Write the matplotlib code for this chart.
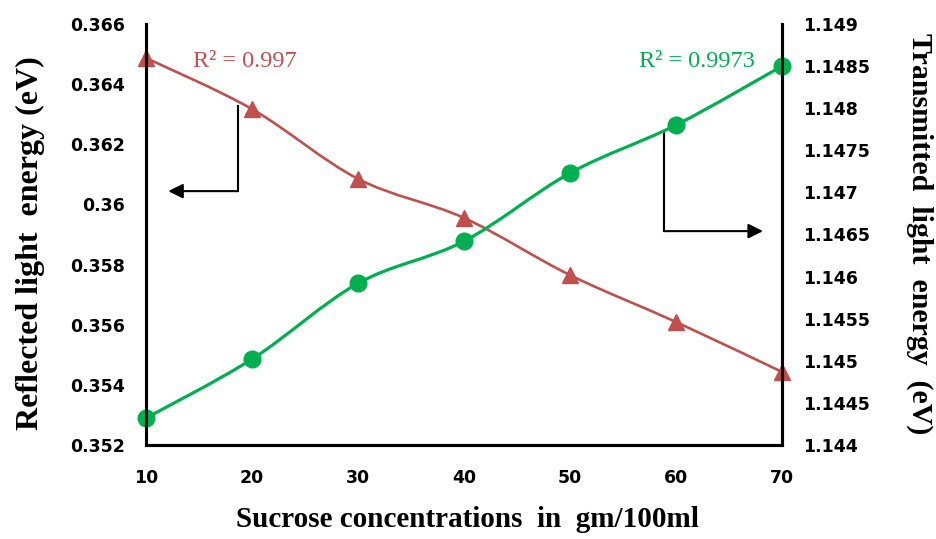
import matplotlib
matplotlib.use('Agg')
from matplotlib import pyplot as plt
from matplotlib.path import Path
from matplotlib.patches import PathPatch

# Data
conc = [10, 20, 30, 40, 50, 60, 70]
reflected = [0.36487, 0.36317, 0.36085, 0.35955, 0.35765, 0.35609, 0.35443]
transmitted = [1.14432, 1.14502, 1.14592, 1.14642, 1.14723, 1.14780, 1.14850]

left_ticks = [0.352, 0.354, 0.356, 0.358, 0.36, 0.362, 0.364, 0.366]
left_labels = ['0.352', '0.354', '0.356', '0.358', '0.36', '0.362', '0.364', '0.366']
right_ticks = [1.144, 1.1445, 1.145, 1.1455, 1.146, 1.1465, 1.147, 1.1475, 1.148, 1.1485, 1.149]
right_labels = ['1.144', '1.1445', '1.145', '1.1455', '1.146', '1.1465', '1.147',
                '1.1475', '1.148', '1.1485', '1.149']

red = '#C0504D'
green = '#00B050'
serif = 'Liberation Serif'
tick_font = {'family': 'DejaVu Sans', 'weight': 'bold', 'size': 12.5}


def smooth_path(xs, ys):
    # Excel-style smoothed line: cubic bezier through every point
    n = len(xs)
    verts = [(xs[0], ys[0])]
    codes = [Path.MOVETO]
    for i in range(n - 1):
        a = max(i - 1, 0)
        b = min(i + 2, n - 1)
        c1 = (xs[i] + (xs[i + 1] - xs[a]) / 6, ys[i] + (ys[i + 1] - ys[a]) / 6)
        c2 = (xs[i + 1] - (xs[b] - xs[i]) / 6, ys[i + 1] - (ys[b] - ys[i]) / 6)
        verts += [c1, c2, (xs[i + 1], ys[i + 1])]
        codes += [Path.CURVE4] * 3
    return Path(verts, codes)


fig = plt.figure(figsize=(9.36, 5.39), dpi=100)
ax = fig.add_axes([0.156, 0.1744, 0.6795, 0.7811])
ax2 = ax.twinx()

# Reflected light (left axis)
ax.add_patch(PathPatch(smooth_path(conc, reflected), fill=False, edgecolor=red, lw=1.9))
ax.plot(conc, reflected, ls='none', marker='^', ms=11, color=red, clip_on=False)

# Transmitted light (right axis)
ax2.add_patch(PathPatch(smooth_path(conc, transmitted), fill=False, edgecolor=green, lw=2.3))
ax2.plot(conc, transmitted, ls='none', marker='o', ms=12, color=green, clip_on=False)

ax.set_xlim(10, 70)
ax.set_ylim(0.352, 0.366)
ax2.set_ylim(1.144, 1.149)
ax.set_xticks(conc)
ax.set_xticklabels([str(c) for c in conc], fontdict=tick_font)
ax.set_yticks(left_ticks)
ax.set_yticklabels(left_labels, fontdict=tick_font)
ax2.set_yticks(right_ticks)
ax2.set_yticklabels(right_labels, fontdict=tick_font)

for a in (ax, ax2):
    a.spines['top'].set_visible(False)
    for s in ('left', 'right', 'bottom'):
        a.spines[s].set_linewidth(2.2)
    a.tick_params(length=0)
ax.tick_params(axis='y', pad=15)
ax.tick_params(axis='x', pad=17)
ax2.tick_params(axis='y', pad=15)

# Axis titles
ax.set_xlabel('Sucrose concentrations  in  gm/100ml', family=serif, weight='bold',
              fontsize=21, va='center')
ax.xaxis.set_label_coords(0.505, -0.178)
ax.set_ylabel('Reflected light  energy (eV)', family=serif, weight='bold',
              fontsize=23, va='center')
ax.yaxis.set_label_coords(-0.182, 0.48)
ax2.set_ylabel('Transmitted  light  energy  (eV)', family=serif, weight='bold',
               fontsize=21.5, rotation=-90, va='center')
ax2.yaxis.set_label_coords(1.217, 0.501)

# R squared notes
ax.text(0.074, 0.91, 'R² = 0.997', transform=ax.transAxes, color=red,
        family=serif, fontsize=17.5, ha='left', va='center')
ax.text(0.9575, 0.91, 'R² = 0.9973', transform=ax.transAxes, color=green,
        family=serif, fontsize=17.5, ha='right', va='center')

# Elbow arrows pointing to each axis
ax.plot([0.1447, 0.1447], [0.805, 0.603], transform=ax.transAxes, color='black', lw=1.5)
ax.annotate('', xy=(0.035, 0.603), xytext=(0.1447, 0.603),
            xycoords='axes fraction', textcoords='axes fraction',
            arrowprops=dict(arrowstyle='-|>', color='black', lw=1.5, mutation_scale=22,
                            shrinkA=0, shrinkB=0))
ax.plot([0.8145, 0.8145], [0.741, 0.508], transform=ax.transAxes, color='black', lw=1.5)
ax.annotate('', xy=(0.970, 0.508), xytext=(0.8145, 0.508),
            xycoords='axes fraction', textcoords='axes fraction',
            arrowprops=dict(arrowstyle='-|>', color='black', lw=1.5, mutation_scale=22,
                            shrinkA=0, shrinkB=0))

fig.savefig('out.png', dpi=100)
